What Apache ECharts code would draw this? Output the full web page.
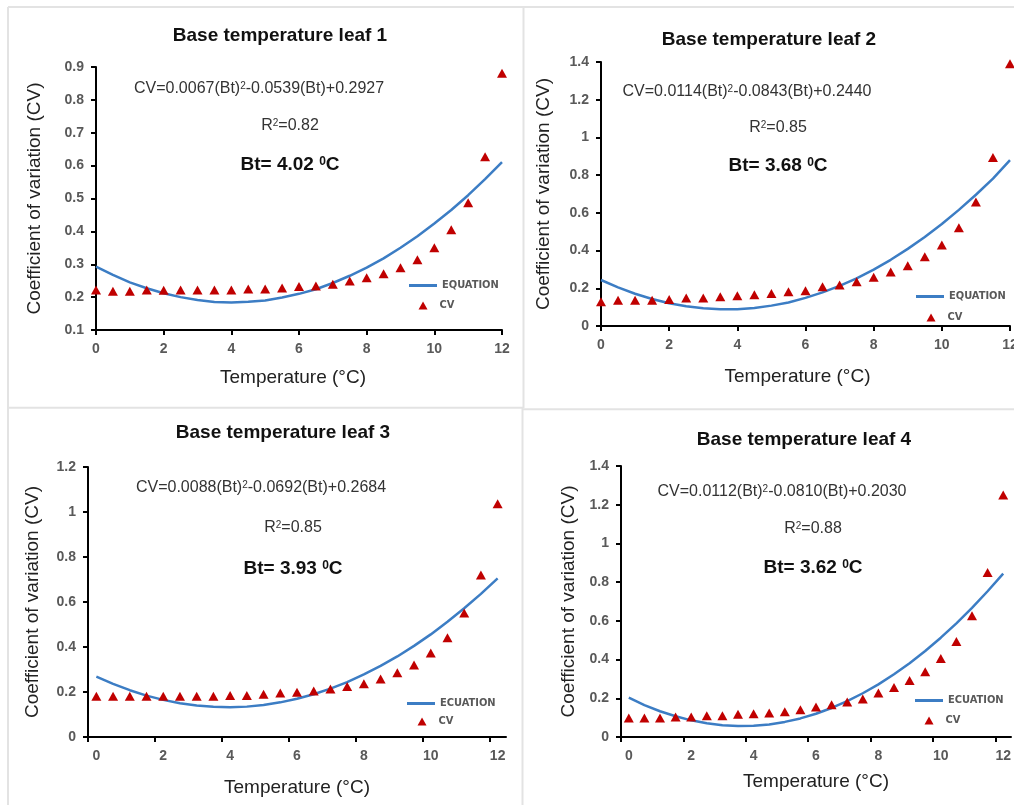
<!DOCTYPE html>
<html>
<head>
<meta charset="utf-8">
<script src="https://cdn.jsdelivr.net/npm/echarts@6/dist/echarts.min.js"></script>
<style>
html,body{margin:0;padding:0;background:#fff;}
#chart{width:1014px;height:805px;}
</style>
</head>
<body>
<div id="chart"></div>
<script>
// ---- data ----
const temps = [0,0.5,1,1.5,2,2.5,3,3.5,4,4.5,5,5.5,6,6.5,7,7.5,8,8.5,9,9.5,10,10.5,11,11.5,12];

const cv1 = [0.222,0.218,0.218,0.222,0.221,0.222,0.222,0.222,0.222,0.225,0.225,0.228,0.232,0.234,0.239,0.249,0.259,0.271,0.289,0.314,0.350,0.405,0.487,0.627,0.881];
const cv2 = [0.129,0.136,0.136,0.136,0.141,0.148,0.148,0.155,0.161,0.166,0.173,0.182,0.187,0.208,0.217,0.235,0.258,0.286,0.320,0.367,0.429,0.521,0.658,0.893,1.391];
const cv3 = [0.181,0.181,0.181,0.181,0.181,0.181,0.181,0.181,0.185,0.185,0.190,0.196,0.199,0.204,0.213,0.225,0.237,0.258,0.286,0.320,0.373,0.441,0.551,0.720,1.037];
const cv4 = [0.098,0.098,0.098,0.103,0.103,0.110,0.110,0.117,0.120,0.124,0.131,0.141,0.155,0.167,0.181,0.196,0.227,0.256,0.292,0.337,0.406,0.494,0.626,0.850,1.250];

const fit1 = [0.293,0.268,0.245,0.227,0.212,0.200,0.191,0.185,0.184,0.186,0.190,0.199,0.210,0.224,0.243,0.265,0.290,0.318,0.350,0.385,0.424,0.465,0.510,0.559,0.611];
const fit2 = [0.244,0.205,0.171,0.143,0.121,0.105,0.094,0.089,0.089,0.096,0.108,0.125,0.149,0.178,0.213,0.253,0.299,0.351,0.409,0.472,0.541,0.616,0.696,0.782,0.880];
const fit3 = [0.268,0.236,0.208,0.184,0.165,0.150,0.140,0.134,0.132,0.135,0.142,0.154,0.170,0.190,0.215,0.244,0.278,0.316,0.358,0.405,0.456,0.512,0.572,0.636,0.705];
const fit4 = [0.203,0.165,0.133,0.107,0.086,0.071,0.061,0.057,0.058,0.065,0.078,0.096,0.120,0.150,0.185,0.226,0.272,0.324,0.381,0.444,0.513,0.587,0.667,0.753,0.844];

const titles = ['Base temperature leaf 1','Base temperature leaf 2','Base temperature leaf 3','Base temperature leaf 4'];
const equations = [
  'CV=0.0067(Bt){s|2}-0.0539(Bt)+0.2927',
  'CV=0.0114(Bt){s|2}-0.0843(Bt)+0.2440',
  'CV=0.0088(Bt){s|2}-0.0692(Bt)+0.2684',
  'CV=0.0112(Bt){s|2}-0.0810(Bt)+0.2030'
];
const r2Texts = ['R{s|2}=0.82','R{s|2}=0.85','R{s|2}=0.85','R{s|2}=0.88'];
const btTexts = ['Bt= 4.02 {s|0}C','Bt= 3.68 {s|0}C','Bt= 3.93 {s|0}C','Bt= 3.62 {s|0}C'];
const lineNames = ['EQUATION','EQUATION','ECUATION','ECUATION'];
const pointName = 'CV';
const xLabelValues = [0,2,4,6,8,10,12];
const xTickValuesShifted = [-0.25,1.75,3.75,5.75,7.75,9.75,11.75];
const yAxisTitle = 'Coefficient of variation (CV)';
const xAxisTitle = 'Temperature (°C)';

const cvSets = [cv1,cv2,cv3,cv4];
const fitSets = [fit1,fit2,fit3,fit4];

// ---- layout / style ----
const FONT = "'Liberation Sans', Arial, sans-serif";
const NARROW = "'Liberation Sans Narrow','DejaVu Sans Condensed','Liberation Sans',sans-serif";
const LINE_COLOR = '#3C7DC4';
const TRI_COLOR = '#C00000';

const panels = [
  {grid:{left:96, top:67, width:406, height:263}, x:{min:0,max:12,shifted:false}, y:{min:0.1,max:0.9,interval:0.1},
   title:[280,36], eq:[259,89], r2:[290,126], bt:[290,165],
   legLine:{left:409, cy:287}, legPt:{cx:423, cy:307}, yGap:52, xGap:38, xPad:[0,12,0,0]},
  {grid:{left:601, top:62, width:409, height:264}, x:{min:0,max:12,shifted:false}, y:{min:0,max:1.4,interval:0.2},
   title:[769,40], eq:[747,92], r2:[778,128], bt:[778,166],
   legLine:{left:916, cy:298}, legPt:{cx:931, cy:319}, yGap:48, xGap:41, xPad:[0,16,0,0]},
  {grid:{left:88, top:467, width:418, height:270}, x:{min:-0.25,max:12.25,shifted:true}, y:{min:0,max:1.2,interval:0.2},
   title:[283,433], eq:[261,488], r2:[293,528], bt:[293,569],
   legLine:{left:407, cy:705}, legPt:{cx:422, cy:723}, yGap:46, xGap:41, xPad:[0,0,0,0]},
  {grid:{left:621, top:466, width:390, height:271}, x:{min:-0.25,max:12.25,shifted:true}, y:{min:0,max:1.4,interval:0.2},
   title:[804,440], eq:[782,492], r2:[813,529], bt:[813,568],
   legLine:{left:915, cy:702}, legPt:{cx:929, cy:722}, yGap:43, xGap:35, xPad:[0,0,0,0]}
];

const labelStyle = {color:'#595959', fontSize:14, fontWeight:'bold', fontFamily:FONT};
const legendText = {color:'#595959', fontSize:11, fontWeight:'bold', fontFamily:NARROW};

const option = {
  backgroundColor:'#ffffff',
  animation:false,
  title:[], grid:[], xAxis:[], yAxis:[], legend:[], series:[], graphic:[]
};

panels.forEach((p,i)=>{
  option.title.push({
    text:titles[i], left:p.title[0], top:p.title[1], textAlign:'center', textVerticalAlign:'middle', padding:0,
    textStyle:{fontSize:19, fontWeight:'bold', color:'#111', fontFamily:FONT}
  });
  option.grid.push(Object.assign({containLabel:false, outerBoundsMode:'none'}, p.grid));
  const xa = {
    type:'value', gridIndex:i, min:p.x.min, max:p.x.max,
    name:xAxisTitle, nameLocation:'middle', nameGap:p.xGap,
    nameTextStyle:{fontSize:19, color:'#222', fontFamily:FONT, padding:p.xPad},
    axisLine:{onZero:false, lineStyle:{color:'#000', width:2}},
    axisTick:{show:true, inside:false, length:5, lineStyle:{color:'#000', width:2}},
    axisLabel:Object.assign({margin:12}, labelStyle),
    splitLine:{show:false}
  };
  if (p.x.shifted) {
    xa.axisLabel.customValues = xLabelValues;
    xa.axisTick.customValues = xTickValuesShifted;
  } else {
    xa.interval = 2;
  }
  option.xAxis.push(xa);
  option.yAxis.push({
    type:'value', gridIndex:i, min:p.y.min, max:p.y.max, interval:p.y.interval,
    name:yAxisTitle, nameLocation:'middle', nameGap:p.yGap,
    nameTextStyle:{fontSize:19, color:'#222', fontFamily:FONT},
    axisLine:{show:true, onZero:false, lineStyle:{color:'#000', width:2}},
    axisTick:{show:true, inside:false, length:5, lineStyle:{color:'#000', width:2}},
    axisLabel:Object.assign({margin:12}, labelStyle),
    splitLine:{show:false}
  });
  option.series.push({
    name:lineNames[i], type:'line', xAxisIndex:i, yAxisIndex:i,
    data:temps.map((t,k)=>[t, fitSets[i][k]]),
    symbol:'none', showSymbol:false, lineStyle:{color:LINE_COLOR, width:2.5}, itemStyle:{color:LINE_COLOR}, z:2
  });
  option.series.push({
    name:pointName, type:'scatter', xAxisIndex:i, yAxisIndex:i,
    data:temps.map((t,k)=>[t, cvSets[i][k]]),
    symbol:'triangle', symbolSize:[10,9], itemStyle:{color:TRI_COLOR, opacity:1}, z:3, clip:false
  });
  option.legend.push({
    left:p.legLine.left, top:p.legLine.cy-7, orient:'vertical', padding:0,
    itemWidth:28, itemHeight:3, selectedMode:false,
    data:[{name:lineNames[i], icon:'rect', itemStyle:{color:LINE_COLOR}}], textStyle:legendText
  });
  option.legend.push({
    left:p.legPt.cx-4.5, top:p.legPt.cy-7, orient:'vertical', padding:0,
    itemWidth:9, itemHeight:8, selectedMode:false,
    data:[{name:pointName, icon:'triangle', itemStyle:{color:TRI_COLOR}}],
    textStyle:Object.assign({}, legendText, {padding:[0,0,0,7]})
  });
  const mk = (pos, txt, size, weight, color) => ({
    type:'text', x:pos[0], y:pos[1], silent:true,
    style:{
      text:txt, fill:color, font:weight+' '+size+'px '+FONT,
      align:'center', verticalAlign:'middle', textAlign:'center', textVerticalAlign:'middle',
      rich:{ s:{ fontSize:Math.round(size*0.62), fontFamily:FONT, fontWeight:weight, fill:color, verticalAlign:'top', lineHeight:size, padding:[0,0,3,0] } }
    }
  });
  option.graphic.push(mk(p.eq, equations[i], 16, 'normal', '#333'));
  option.graphic.push(mk(p.r2, r2Texts[i], 16, 'normal', '#333'));
  option.graphic.push(mk(p.bt, btTexts[i], 19, 'bold', '#111'));
});

// panel frame lines
const frameStyle = {stroke:'#e3e3e3', lineWidth:2};
[
  [8,7,1014,7],[8,7,8,805],
  [523.5,7,523.5,408],[522.5,408,522.5,805],
  [8,407.7,523,407.7],[523,409.3,1014,409.3]
].forEach(l=>{
  option.graphic.push({type:'line', silent:true, z:-10, shape:{x1:l[0],y1:l[1],x2:l[2],y2:l[3]}, style:frameStyle});
});

const chart = echarts.init(document.getElementById('chart'), null, {renderer:'canvas'});
chart.setOption(option);
</script>
</body>
</html>
